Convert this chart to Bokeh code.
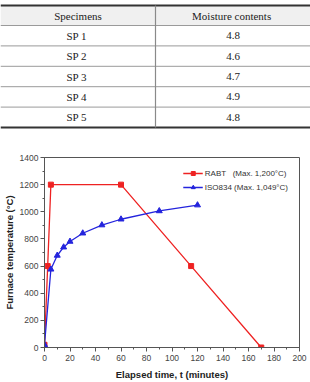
from bokeh.plotting import figure
from bokeh.models import Range1d, Legend, LegendItem, FixedTicker
from bokeh.embed import file_html
from bokeh.resources import INLINE
from bokeh.core.properties import value

# ---- table data ----
headers = ["Specimens", "Moisture  contents"]
specimens = ["SP  1", "SP  2", "SP  3", "SP  4", "SP  5"]
moisture = ["4.8", "4.6", "4.7", "4.9", "4.8"]

# ---- chart data ----
rabt_t = [0, 2.5, 5, 60, 115, 170]
rabt_T = [20, 600, 1200, 1200, 600, 0]
iso_t = [0, 5, 10, 15, 20, 30, 45, 60, 90, 120]
iso_T = [20, 576, 678, 739, 781, 842, 902, 945, 1006, 1049]
x_ticks = list(range(0, 201, 20))
y_ticks = list(range(0, 1401, 200))
x_minor = list(range(0, 201, 10))
y_minor = list(range(0, 1401, 100))

# ---------------- table ----------------
TW, TH = 310, 135
tab = figure(width=TW, height=TH, x_range=Range1d(0, TW), y_range=Range1d(TH, 0),
             output_backend="svg", toolbar_location=None,
             min_border=0, outline_line_color=None)
tab.axis.visible = False
tab.grid.visible = False

top, hdr_h, row_h = 5, 20, 20.4
col_x = [0, 155, 310]
tab.quad(left=[0], right=[TW], top=[top], bottom=[top + hdr_h], fill_color="#f0f0f0", line_color=None)
n = len(specimens)
bottom = top + hdr_h + n * row_h
ys = [top + hdr_h + i * row_h for i in range(n)]
tab.segment(x0=[0] * n, x1=[TW] * n, y0=ys, y1=ys, line_color="#9a9a9a", line_width=1)
tab.segment(x0=[0, 0], x1=[TW, TW], y0=[top, bottom], y1=[top, bottom], line_color="#333333", line_width=2)
tab.segment(x0=[col_x[1]], x1=[col_x[1]], y0=[top], y1=[bottom], line_color="#8a8a8a", line_width=1.2)

cx = [(col_x[0] + col_x[1]) / 2, (col_x[1] + col_x[2]) / 2]
tab.text(x=cx, y=[top + hdr_h / 2] * 2, text=headers, text_align="center", text_baseline="middle",
         text_font=value("Liberation Serif"), text_font_size="11px", text_color="#222222")
ry = [top + hdr_h + (i + 0.5) * row_h for i in range(n)]
tab.text(x=[cx[0]] * n, y=ry, text=specimens, text_align="center", text_baseline="middle",
         text_font=value("Liberation Serif"), text_font_size="11px", text_color="#222222")
tab.text(x=[cx[1]] * n, y=ry, text=moisture, text_align="center", text_baseline="middle",
         text_font=value("Liberation Serif"), text_font_size="11px", text_color="#222222")

# ---------------- chart ----------------
p = figure(width=310, height=382 - TH, x_range=Range1d(0, 200), y_range=Range1d(0, 1400),
           output_backend="svg", toolbar_location=None,
           min_border_left=42, min_border_right=11, min_border_top=22, min_border_bottom=33)
p.grid.visible = False
p.outline_line_color = "#555555"
p.outline_line_width = 1

red, blue = "#ee2222", "#2424dd"
r1 = p.line(rabt_t, rabt_T, line_color=red, line_width=1.3)
r1m = p.scatter(rabt_t, rabt_T, marker="square", size=5, fill_color=red, line_color=red)
r2 = p.line(iso_t, iso_T, line_color=blue, line_width=1.3)
r2m = p.scatter(iso_t, iso_T, marker="triangle", size=6, fill_color=blue, line_color=blue)

for ax in (p.xaxis[0], p.yaxis[0]):
    ax.axis_line_color = "#555555"
    ax.major_tick_line_color = "#555555"
    ax.minor_tick_line_color = "#555555"
    ax.major_tick_out = 4
    ax.major_tick_in = 0
    ax.minor_tick_out = 2
    ax.minor_tick_in = 0
    ax.major_label_text_font = "Liberation Sans"
    ax.major_label_text_font_size = "8.5px"
    ax.major_label_text_color = "#444444"
    ax.axis_label_text_font = "Liberation Sans"
    ax.axis_label_text_font_size = "9.5px"
    ax.axis_label_text_font_style = "bold"
    ax.axis_label_text_color = "#222222"

p.xaxis[0].ticker = FixedTicker(ticks=x_ticks, minor_ticks=x_minor)
p.yaxis[0].ticker = FixedTicker(ticks=y_ticks, minor_ticks=y_minor)
p.xaxis.axis_label = "Elapsed time, t (minutes)"
p.yaxis.axis_label = "Furnace temperature (°C)"
p.xaxis.major_label_standoff = 3
p.yaxis.major_label_standoff = 2
p.xaxis.axis_label_standoff = 5
p.yaxis.axis_label_standoff = 2

legend = Legend(items=[
    LegendItem(label="RABT   (Max. 1,200°C)", renderers=[r1, r1m]),
    LegendItem(label="ISO834 (Max. 1,049°C)", renderers=[r2, r2m]),
], location="top_right")
legend.background_fill_alpha = 0
legend.border_line_color = None
legend.label_text_font = "Liberation Sans"
legend.label_text_font_size = "8px"
legend.label_text_color = "#333333"
legend.glyph_width = 20
legend.glyph_height = 10
legend.spacing = 4
legend.padding = 4
legend.margin = 11
legend.label_standoff = 2
legend.label_height = 10
p.add_layout(legend)

open("out.html", "w").write(file_html([tab, p], INLINE))
